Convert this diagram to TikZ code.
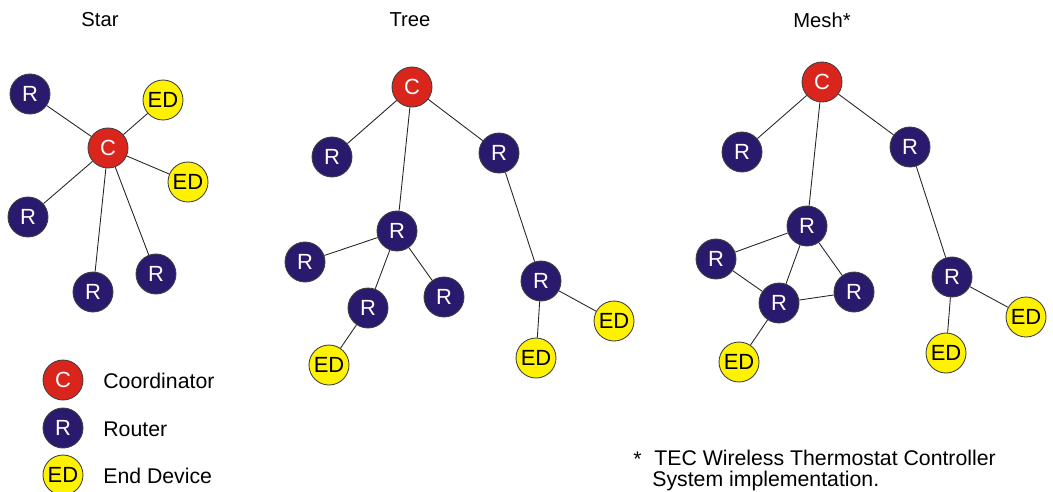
\documentclass[tikz,border=0pt]{standalone}
\usepackage{fontspec}
\setmainfont{Liberation Sans}
\definecolor{navy}{RGB}{42,26,110}
\definecolor{cred}{RGB}{218,37,29}
\definecolor{cyel}{RGB}{255,242,0}
\begin{document}
\begin{tikzpicture}[x=0.02cm,y=-0.02cm,
  base/.style={circle,draw=black!75,line width=0.5pt,minimum size=0.8cm,inner sep=0pt,font=\fontsize{12.5}{14}\selectfont},
  coord/.style={base,fill=cred,text=white},
  rout/.style={base,fill=navy,text=white},
  endd/.style={base,fill=cyel,text=black},
  link/.style={draw=black!85,line width=0.5pt},
  ttl/.style={font=\fontsize{11.5}{13}\selectfont},
  txt/.style={font=\fontsize{12.1}{14}\selectfont,anchor=west,inner sep=0pt}]
\useasboundingbox (0,0) rectangle (1053,491);
% titles
\node[ttl] (tstar) at (100,20) {Star};
\node[ttl] (ttree) at (410,20) {Tree};
\node[ttl] (tmesh) at (822,20) {Mesh*};
% ---------- Star ----------
\node[rout] (s1) at (30,94) {R};
\node[endd] (s2) at (163,100) {ED};
\node[coord] (sc) at (108,148) {C};
\node[endd] (s3) at (188,182) {ED};
\node[rout] (s4) at (28,217) {R};
\node[rout] (s5) at (93,292) {R};
\node[rout] (s6) at (156,274) {R};
\draw[link] (sc) -- (s1);
\draw[link] (sc) -- (s2);
\draw[link] (sc) -- (s3);
\draw[link] (sc) -- (s4);
\draw[link] (sc) -- (s5);
\draw[link] (sc) -- (s6);
% ---------- Tree ----------
\node[coord] (tc) at (412,87) {C};
\node[rout] (ta) at (332,157) {R};
\node[rout] (tb) at (499,153) {R};
\node[rout] (tm) at (397,231) {R};
\node[rout] (td) at (305,262) {R};
\node[rout] (te) at (368,308) {R};
\node[rout] (tf) at (444,297) {R};
\node[endd] (tg) at (329,365) {ED};
\node[rout] (th) at (541,281) {R};
\node[endd] (ti) at (614,321) {ED};
\node[endd] (tj) at (536,358) {ED};
\draw[link] (tc) -- (ta);
\draw[link] (tc) -- (tm);
\draw[link] (tc) -- (tb);
\draw[link] (tm) -- (td);
\draw[link] (tm) -- (te);
\draw[link] (tm) -- (tf);
\draw[link] (te) -- (tg);
\draw[link] (tb) -- (th);
\draw[link] (th) -- (ti);
\draw[link] (th) -- (tj);
% ---------- Mesh ----------
\node[coord] (mc) at (822,82) {C};
\node[rout] (ma) at (742,152) {R};
\node[rout] (mb) at (910,147) {R};
\node[rout] (mm) at (807,226) {R};
\node[rout] (md) at (716,259) {R};
\node[rout] (me) at (779,303) {R};
\node[rout] (mf) at (854,292) {R};
\node[endd] (mg) at (739,362) {ED};
\node[rout] (mh) at (952,277) {R};
\node[endd] (mi) at (1026,317) {ED};
\node[endd] (mj) at (946,353) {ED};
\draw[link] (mc) -- (ma);
\draw[link] (mc) -- (mm);
\draw[link] (mc) -- (mb);
\draw[link] (mm) -- (md);
\draw[link] (mm) -- (me);
\draw[link] (mm) -- (mf);
\draw[link] (md) -- (me);
\draw[link] (me) -- (mf);
\draw[link] (me) -- (mg);
\draw[link] (mb) -- (mh);
\draw[link] (mh) -- (mi);
\draw[link] (mh) -- (mj);
% ---------- Legend ----------
\node[coord] (lc) at (63,380) {C};
\node[rout] (lr) at (63,428) {R};
\node[endd] (le) at (63,475) {ED};
\node[txt] (lct) at (103,381) {Coordinator};
\node[txt] (lrt) at (103,429) {Router};
\node[txt] (let) at (103,476) {End Device};
% ---------- Footnote ----------
\node[txt] (fstar) at (633,459) {*};
\node[txt] (f1) at (654,458) {TEC Wireless Thermostat Controller};
\node[txt] (f2) at (652,481) {System implementation.};
\end{tikzpicture}
\end{document}
